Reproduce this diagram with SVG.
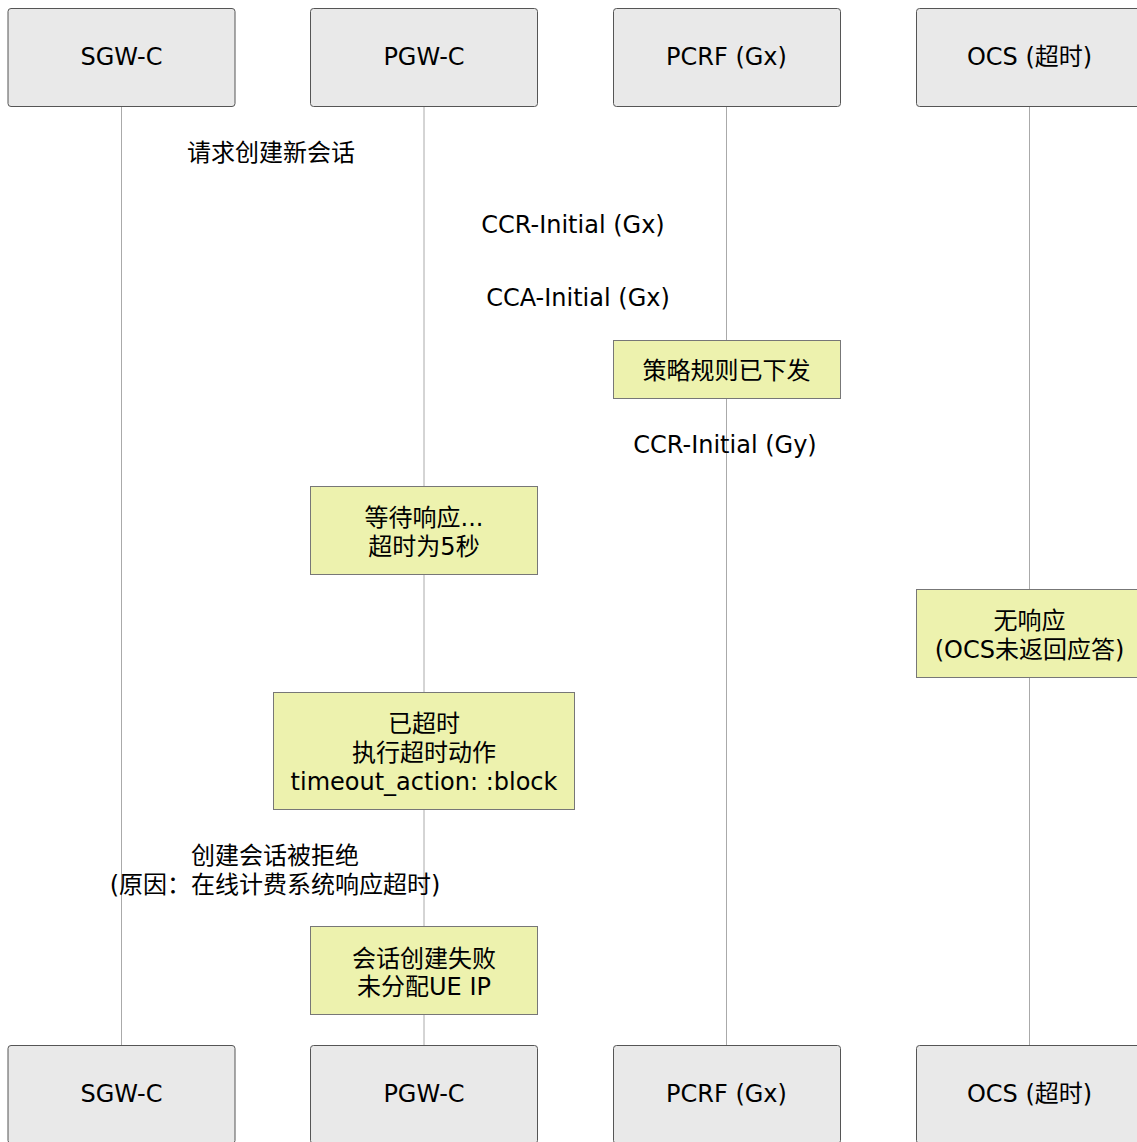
<svg xmlns="http://www.w3.org/2000/svg" width="1137" height="1142" viewBox="0 0 1137 1142">
<style>
text{font-family:"DejaVu Sans","Noto Sans CJK SC",sans-serif;font-size:24px;fill:#000;text-anchor:middle}
.part{fill:#e9e9e9;stroke:#555;stroke-width:1}
.note{fill:#edf2ae;stroke:#777;stroke-width:1}
.life{stroke:#aaa;stroke-width:1}
</style>
<rect width="1137" height="1142" fill="#fff"/>
<g id="lifelines">
<line class="life" x1="121.5" y1="106" x2="121.5" y2="1045"/>
<line class="life" x1="424" y1="106" x2="424" y2="1045"/>
<line class="life" x1="726.5" y1="106" x2="726.5" y2="1045"/>
<line class="life" x1="1029.5" y1="106" x2="1029.5" y2="1045"/>
</g>
<g id="sgwc">
<rect class="part" x="8" y="8.5" width="227" height="98" rx="3"/><text x="121.5" y="65">SGW-C</text>
<rect class="part" x="8" y="1045.5" width="227" height="98" rx="3"/><text x="121.5" y="1102">SGW-C</text>
</g>
<g id="pgwc">
<rect class="part" x="310.5" y="8.5" width="227" height="98" rx="3"/><text x="424" y="65">PGW-C</text>
<rect class="part" x="310.5" y="1045.5" width="227" height="98" rx="3"/><text x="424" y="1102">PGW-C</text>
</g>
<g id="pcrf">
<rect class="part" x="613.5" y="8.5" width="227" height="98" rx="3"/><text x="726.5" y="65">PCRF (Gx)</text>
<rect class="part" x="613.5" y="1045.5" width="227" height="98" rx="3"/><text x="726.5" y="1102">PCRF (Gx)</text>
</g>
<g id="ocs">
<rect class="part" x="916.5" y="8.5" width="227" height="98" rx="3"/><text x="1029.5" y="65">OCS (超时)</text>
<rect class="part" x="916.5" y="1045.5" width="227" height="98" rx="3"/><text x="1029.5" y="1102">OCS (超时)</text>
</g>
<g id="connectors">
<text x="271" y="161">请求创建新会话</text>
<text x="573" y="233">CCR-Initial (Gx)</text>
<text x="578" y="306">CCA-Initial (Gx)</text>
<text x="725" y="453">CCR-Initial (Gy)</text>
<text x="275" y="864">创建会话被拒绝</text>
<text x="275" y="893">(原因：在线计费系统响应超时)</text>
</g>
<g id="note-pcrf">
<rect class="note" x="613.5" y="340.5" width="227" height="58"/>
<text x="726.5" y="379">策略规则已下发</text>
</g>
<g id="note-pgw-wait">
<rect class="note" x="310.5" y="486.5" width="227" height="88"/>
<text x="424" y="526">等待响应...</text>
<text x="424" y="555">超时为5秒</text>
</g>
<g id="note-ocs">
<rect class="note" x="916.5" y="589.5" width="227" height="88"/>
<text x="1029.5" y="629">无响应</text>
<text x="1029.5" y="658">(OCS未返回应答)</text>
</g>
<g id="note-pgw-timeout">
<rect class="note" x="273.5" y="692.5" width="301" height="117"/>
<text x="424" y="732">已超时</text>
<text x="424" y="761">执行超时动作</text>
<text x="424" y="790">timeout_action: :block</text>
</g>
<g id="note-pgw-fail">
<rect class="note" x="310.5" y="926.5" width="227" height="88"/>
<text x="424" y="967">会话创建失败</text>
<text x="424" y="995">未分配UE IP</text>
</g>
</svg>
